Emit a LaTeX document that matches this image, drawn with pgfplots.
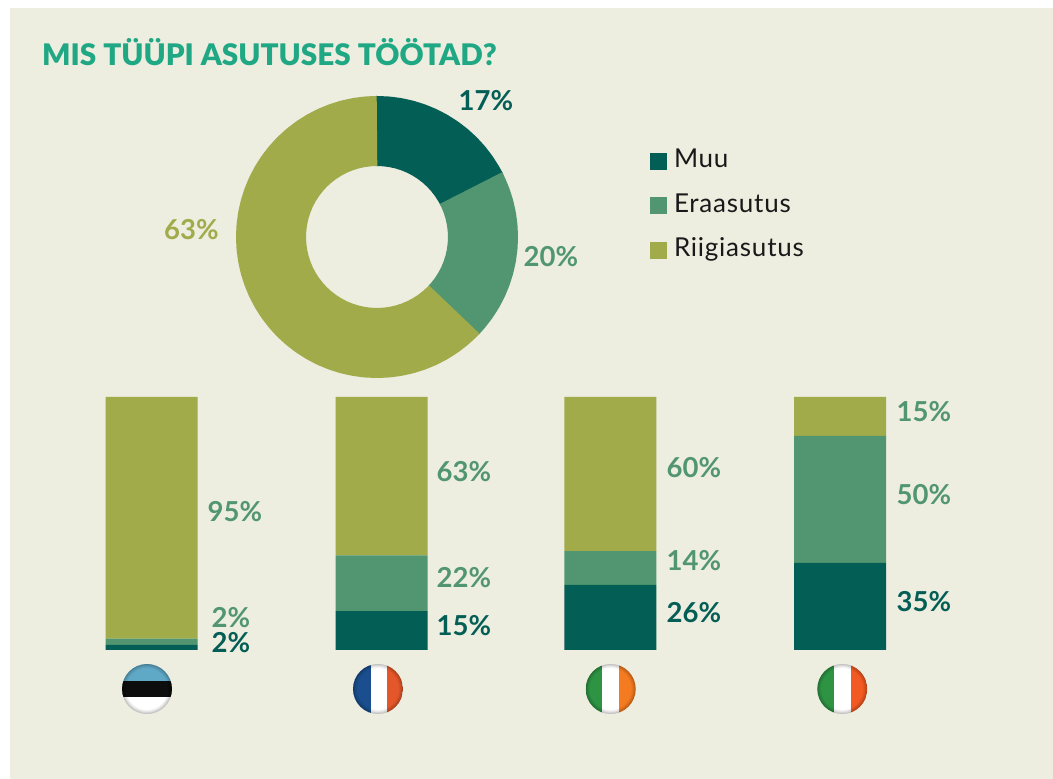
\documentclass[border=0pt]{standalone}
\usepackage{fontspec}
\setmainfont{Lato}
\newfontfamily\blackf{Lato Black}
\usepackage{pgfplots}
\usepackage{pgfplotstable}
\pgfplotsset{compat=1.18}
\definecolor{bgc}{HTML}{EDEDE0}
\definecolor{teal}{HTML}{035E55}
\definecolor{midg}{HTML}{519670}
\definecolor{oliv}{HTML}{A1AB4A}
\definecolor{ttl}{HTML}{1FA883}
\definecolor{eeblue}{HTML}{5FA8C6}
\definecolor{frblue}{HTML}{1A4E8E}
\definecolor{frred}{HTML}{E4572A}
\definecolor{iegreen}{HTML}{2E9444}
\definecolor{ieor}{HTML}{F47B20}
\definecolor{itred}{HTML}{F15A22}
\pgfplotstableread{
x country muu era rii
151.7 EE 2 2.5 95.5
381.5 FR 15.4 22 62.6
610.4 IE 25.7 13.4 60.9
840.2 IT 34.4 50.2 15.4
}\bars
\newcommand{\pct}[4]{\node[anchor=base west,inner sep=0pt,text=#3,font=\fontsize{27.5}{27.5}\selectfont\bfseries] at ({#1*1pt},{(779-#2-9.8)*1pt}) {#4};}
\newcommand{\flagring}[2]{%
  \foreach \w/\o in {1/.06,2.5/.06,4/.06,6/.05,8/.04}{%
    \draw[black,opacity=\o,line width=\w pt] (#1pt,#2pt) circle (25pt);}}
\newcommand{\vflag}[6]{%
\begin{scope}
\clip (#1pt,#2pt) circle (25pt);
\fill[white] ({(#1-25)*1pt},{(#2-25)*1pt}) rectangle ({(#1+25)*1pt},{(#2+25)*1pt});
\fill[#3] ({(#1-25)*1pt},{(#2-25)*1pt}) rectangle ({#5*1pt},{(#2+25)*1pt});
\fill[#4] ({#6*1pt},{(#2-25)*1pt}) rectangle ({(#1+25)*1pt},{(#2+25)*1pt});
\flagring{#1}{#2}
\end{scope}}
\begin{document}
\begin{tikzpicture}[x=1pt,y=1pt]
\path[use as bounding box] (0,0) rectangle (1053pt,779pt);
\fill[white] (0,0) rectangle (1053pt,779pt);
\fill[bgc] (10pt,0) rectangle (1053pt,771pt);
\node[anchor=base west,inner sep=0pt,text=ttl,font=\fontsize{29.7}{29.7}\blackf] at (42pt,713pt) {MIS TÜÜPI ASUTUSES TÖÖTAD?};
% donut
\begin{axis}[at={(236pt,401pt)},anchor=south west,scale only axis,width=282pt,height=282pt,
  xmin=-141,xmax=141,ymin=-141,ymax=141,hide axis,clip=false,
  legend style={at={(axis cs:273,90)},anchor=north west,draw=none,fill=none,inner sep=0pt,outer sep=0pt,
    font=\fontsize{26}{26}\selectfont\addfontfeatures{LetterSpace=3},text=black!90,
    row sep=15.5pt,cells={anchor=west},
    nodes={text height=19pt,text depth=6pt},
    /tikz/every odd column/.style={column sep=6pt}},
  legend image code/.code={\fill[#1,line width=0pt,line join=miter] (0pt,-8pt) rectangle (16pt,8pt);}]
\addplot[data cs=polar,teal,line width=70pt,line join=round,no markers,sharp plot] coordinates {
(90.6,106)(90,106)(85,106)(80,106)(75,106)(70,106)(65,106)(60,106)(55,106)(50,106)(45,106)(40,106)(35,106)(30,106)(27.5,106)(26.5,106)};
\addlegendentry{Muu}
\addplot[data cs=polar,midg,line width=70pt,line join=round,no markers,sharp plot] coordinates {
(27.5,106)(26.5,106)(25,106)(20,106)(15,106)(10,106)(5,106)(0,106)(-5,106)(-10,106)(-15,106)(-20,106)(-25,106)(-30,106)(-35,106)(-40,106)(-43.2,106)(-43.8,106)};
\addlegendentry{Eraasutus}
\addplot[data cs=polar,oliv,line width=70pt,line join=round,no markers,sharp plot] coordinates {
(-43.2,106)(-44.2,106)(-45,106)(-50,106)(-55,106)(-60,106)(-65,106)(-70,106)(-75,106)(-80,106)(-85,106)(-90,106)(-95,106)(-100,106)(-105,106)(-110,106)(-115,106)(-120,106)(-125,106)(-130,106)(-135,106)(-140,106)(-145,106)(-150,106)(-155,106)(-160,106)(-165,106)(-170,106)(-175,106)(-180,106)(-185,106)(-190,106)(-195,106)(-200,106)(-205,106)(-210,106)(-215,106)(-220,106)(-225,106)(-230,106)(-235,106)(-240,106)(-245,106)(-250,106)(-255,106)(-260,106)(-265,106)(-269,106)(-270,106)};
\addlegendentry{Riigiasutus}
\end{axis}
% stacked bars
\begin{axis}[at={(0pt,129pt)},anchor=south west,scale only axis,width=1053pt,height=253pt,
  xmin=0,xmax=1053,ymin=0,ymax=100,hide axis,clip=false,ybar stacked,bar width=92pt]
\addplot[fill=teal,draw=none] table[x=x,y=muu]{\bars};
\addplot[fill=midg,draw=none] table[x=x,y=era]{\bars};
\addplot[fill=oliv,draw=none] table[x=x,y=rii]{\bars};
\end{axis}
% labels
\pct{458.5}{101}{teal}{17\%}
\pct{164}{229.5}{oliv}{63\%}
\pct{523.5}{256.5}{midg}{20\%}
\pct{207.5}{511.5}{midg}{95\%}
\pct{211.5}{618}{midg}{2\%}
\pct{211.5}{643}{teal}{2\%}
\pct{436.5}{471.5}{midg}{63\%}
\pct{436.5}{578}{midg}{22\%}
\pct{436.5}{625.5}{teal}{15\%}
\pct{666.5}{467.5}{midg}{60\%}
\pct{666.5}{561}{midg}{14\%}
\pct{666.5}{612.5}{teal}{26\%}
\pct{896.5}{411.5}{midg}{15\%}
\pct{896.5}{494.5}{midg}{50\%}
\pct{896.5}{601.5}{teal}{35\%}
% flags
\begin{scope}
\clip (147pt,90pt) circle (25pt);
\fill[white] (122pt,65pt) rectangle (172pt,115pt);
\fill[black!95] (122pt,81.7pt) rectangle (172pt,98.3pt);
\fill[eeblue] (122pt,98.3pt) rectangle (172pt,115pt);
\flagring{147}{90}
\end{scope}
\vflag{378}{90}{frblue}{frred}{371}{387}
\vflag{610.7}{90}{iegreen}{ieor}{602}{619}
\vflag{842.3}{90}{iegreen}{itred}{834}{851}
\end{tikzpicture}
\end{document}
